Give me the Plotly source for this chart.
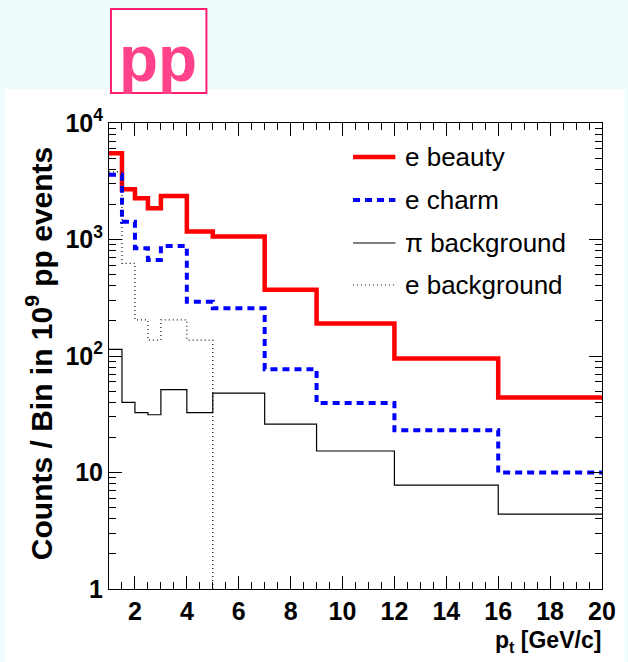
import plotly.graph_objects as go

# Bin edges in p_t [GeV/c]
pt_edges = [1, 1.5, 2, 2.5, 3, 4, 5, 7, 9, 12, 16, 20]

# Counts per bin in 10^9 pp events
e_beauty = [5500, 2700, 2260, 1850, 2360, 1170, 1060, 370, 190, 95, 44]
e_charm = [3600, 1420, 840, 667, 880, 292, 257, 77, 39.5, 23, 10]
pi_background = [114, 40, 32.6, 31.3, 51.4, 32.6, 48, 26, 15.3, 7.8, 4.4]
e_background = [3800, 625, 204, 137, 204, 137, 0, 0, 0, 0, 0]

series_names = ["e beauty", "e charm", "\u03c0 background", "e background"]
series_values = [e_beauty, e_charm, pi_background, e_background]
series_styles = [
    dict(color="#ff0000", width=4.5, dash="solid"),
    dict(color="#0000ff", width=4, dash="7px,5px"),
    dict(color="#000000", width=1.2, dash="solid"),
    dict(color="#111111", width=1.2, dash="1px,3px"),
]

y_tickvals = [1, 10, 100, 1000, 10000]
y_ticktext = ["1", "10", "10<sup>2</sup>", "10<sup>3</sup>", "10<sup>4</sup>"]
x_tickvals = [2, 4, 6, 8, 10, 12, 14, 16, 18, 20]

W, H = 628, 662
L, R, T, B = 109, 18, 123, 73
PW, PH = W - L - R, H - T - B
FONT = "Liberation Sans, Arial, Helvetica, sans-serif"


def px(x):
    return (x - L) / PW


def py(y):
    return (H - B - y) / PH


fig = go.Figure()

# empty bins are drawn down past the lower axis edge, like a histogram outline
FLOOR = 1e-3
for name, vals, style in zip(series_names, series_values, series_styles):
    yv = [v if v > 0 else FLOOR for v in vals]
    fig.add_trace(go.Scatter(
        x=pt_edges,
        y=yv + [yv[-1]],
        mode="lines",
        line=dict(shape="hv", **style),
        name=name,
        showlegend=False,
        hoverinfo="skip",
    ))

# placeholder trace so the top/right tick axes get drawn
fig.add_trace(go.Scatter(x=[None], y=[None], xaxis="x2", yaxis="y2",
                         showlegend=False, hoverinfo="skip"))

shapes = []
annotations = []

# white canvas area below the caption strip
shapes.append(dict(type="rect", xref="paper", yref="paper", layer="below",
                   x0=px(3), x1=px(W + 5), y0=py(H + 5), y1=py(89),
                   fillcolor="white", line=dict(width=0)))

# caption box "pp"
shapes.append(dict(type="rect", xref="paper", yref="paper",
                   x0=px(111), x1=px(208), y0=py(93), y1=py(9),
                   fillcolor="white", line=dict(color="#ff1f72", width=2)))
annotations.append(dict(text="<b>pp</b>", xref="paper", yref="paper",
                        x=px(159), y=py(59), xanchor="center", yanchor="middle",
                        showarrow=False,
                        font=dict(family=FONT, size=64, color="#ff4289")))

# legend
legend_rows = [157, 200, 243, 285]
for name, style, yrow in zip(series_names, series_styles, legend_rows):
    shapes.append(dict(type="line", xref="paper", yref="paper",
                       x0=px(357), x1=px(400), y0=py(yrow), y1=py(yrow),
                       line=dict(color=style["color"], width=style["width"],
                                 dash=style["dash"])))
    annotations.append(dict(text=name, xref="paper", yref="paper",
                            x=px(408), y=py(yrow), xanchor="left", yanchor="middle",
                            showarrow=False,
                            font=dict(family=FONT, size=26, color="black")))

# axis titles
annotations.append(dict(text="<b>p<sub>t</sub> [GeV/c]</b>", xref="paper", yref="paper",
                        x=px(611), y=py(641), xanchor="right", yanchor="middle",
                        showarrow=False, font=dict(family=FONT, size=23, color="black")))
annotations.append(dict(text="<b>Counts / Bin in 10<sup>9</sup> pp events</b>",
                        xref="paper", yref="paper", textangle=-90,
                        x=px(38), y=py(354), xanchor="center", yanchor="middle",
                        showarrow=False, font=dict(family=FONT, size=30, color="black")))

common_x = dict(
    range=[1, 20],
    tickvals=x_tickvals,
    ticks="inside", ticklen=13, tickwidth=1, tickcolor="black",
    minor=dict(dtick=0.5, tick0=1, ticks="inside", ticklen=7, tickcolor="black", showgrid=False),
    showgrid=False, zeroline=False,
)
common_y = dict(
    type="log",
    range=[0, 4],
    tickvals=y_tickvals,
    ticks="inside", ticklen=13, tickwidth=1, tickcolor="black",
    minor=dict(dtick="D1", ticks="inside", ticklen=7, tickcolor="black", showgrid=False),
    showgrid=False, zeroline=False,
)

fig.update_layout(
    width=W, height=H,
    margin=dict(l=L, r=R, t=T, b=B),
    paper_bgcolor="#effcfd",
    plot_bgcolor="white",
    shapes=shapes,
    annotations=annotations,
    showlegend=False,
    xaxis=dict(**common_x, showline=True, linecolor="black", linewidth=1, mirror=True,
               tickfont=dict(family=FONT, size=25, color="black", weight="bold")),
    yaxis=dict(**common_y, ticktext=y_ticktext,
               showline=True, linecolor="black", linewidth=1, mirror=True,
               tickfont=dict(family=FONT, size=25, color="black", weight="bold")),
    xaxis2=dict(**common_x, overlaying="x", side="top", anchor="y", showticklabels=False),
    yaxis2=dict(**common_y, overlaying="y", side="right", anchor="x", showticklabels=False),
)

fig.write_html("out.html")
